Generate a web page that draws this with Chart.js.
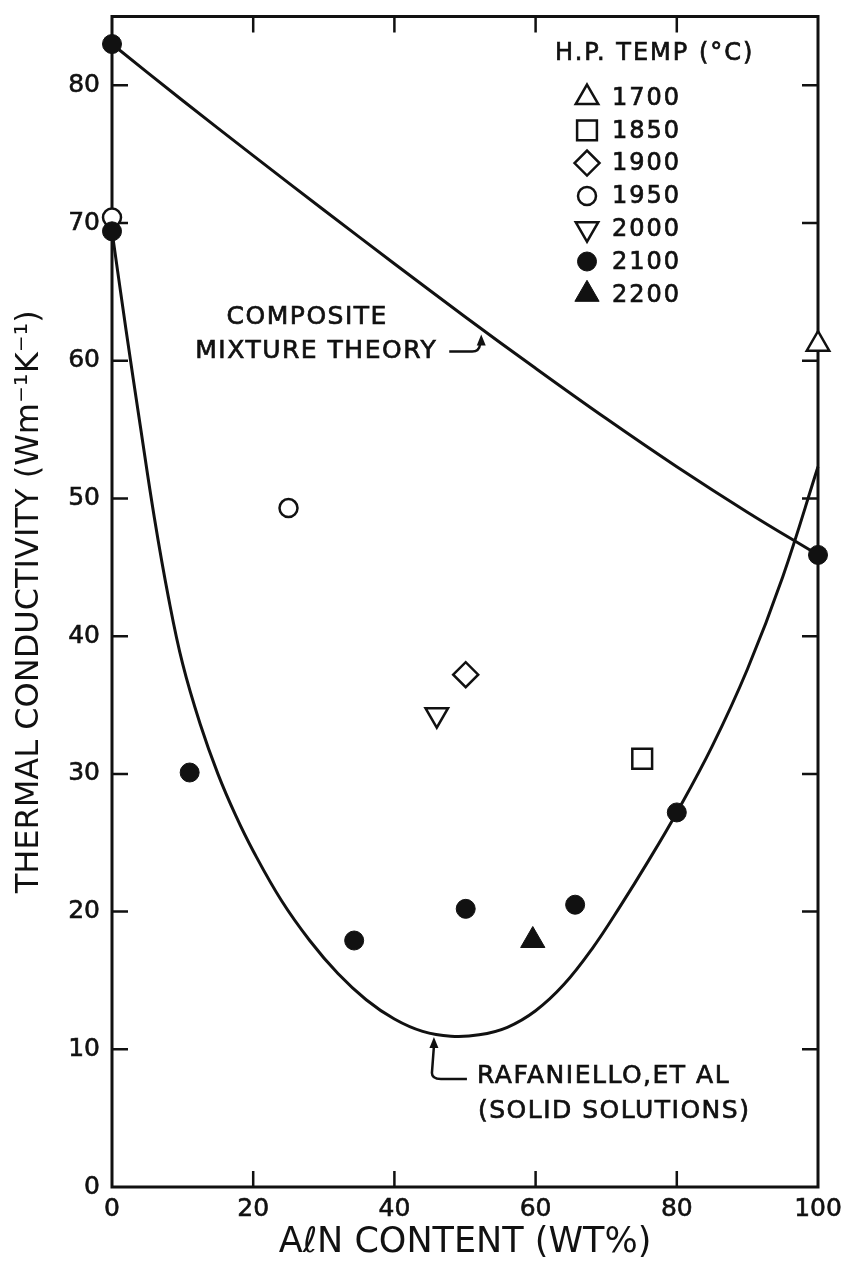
<!DOCTYPE html>
<html lang="en">
<head>
<meta charset="UTF-8">
<title>Thermal conductivity vs AlN content</title>
<script src="https://cdn.jsdelivr.net/npm/chart.js@4.4.7/dist/chart.umd.min.js"></script>
<style>
*{margin:0;padding:0}
body{background:#fff;width:846px;height:1275px;overflow:hidden}
</style>
</head>
<body>
<canvas id="chart" width="846" height="1275"></canvas>
<script>
// hot-pressing temperatures (°C), one marker style each
const tempLabels = ['1700', '1850', '1900', '1950', '2000', '2100', '2200'];

// measured points: AlN content (wt%) and conductivity (W/m·K)
const aln1700 = [100];
const k1700 = [61.2];
const aln1850 = [75.1];
const k1850 = [31.1];
const aln1900 = [50.1];
const k1900 = [37.2];
const aln1950 = [0, 25];
const k1950 = [70.4, 49.3];
const aln2000 = [46];
const k2000 = [34.3];
const aln2100 = [0, 0, 11, 34.3, 50.1, 65.6, 80, 100];
const k2100 = [83, 69.4, 30.1, 17.9, 20.2, 20.5, 27.2, 45.9];
const aln2200 = [59.6];
const k2200 = [17.9];

// composite mixture theory curve
const mixtureX = [0, 10, 20, 30, 40, 50, 60, 70, 80, 90, 100];
const mixtureY = [83, 78.9, 74.9, 70.95, 67.05, 63.2, 59.45, 55.8, 52.3, 49.0, 45.9];

// Rafaniello et al. solid solution curve
const solidX = [0, 2, 4, 6, 8, 10, 12.5, 15, 17.5, 20, 24, 28, 32, 36, 40, 44, 48, 52, 56, 60, 64, 68, 72, 76, 80, 85, 90, 95, 100];
const solidY = [69.4, 62.2, 55.3, 48.6, 42.8, 38.0, 33.6, 30.0, 27.0, 24.4, 20.8, 17.9, 15.5, 13.6, 12.2, 11.3, 10.95, 11.05, 11.6, 12.8, 14.7, 17.3, 20.4, 23.7, 27.2, 32.0, 37.6, 44.3, 52.3];

const xTicks = [0, 20, 40, 60, 80, 100];
const yTicks = [0, 10, 20, 30, 40, 50, 60, 70, 80];

const ink = '#111';
const FONT = "'DejaVu Sans', sans-serif";
const pairs = (xs, ys) => xs.map((x, i) => ({ x, y: ys[i] }));

function marker(label, xs, ys, style, filled, radius, rotation) {
  return {
    type: 'scatter',
    label,
    data: pairs(xs, ys),
    pointStyle: style,
    pointRadius: radius,
    pointHoverRadius: radius,
    pointRotation: rotation || 0,
    pointBorderWidth: filled ? 1 : 2.5,
    backgroundColor: filled ? ink : '#fff',
    borderColor: ink,
    clip: false,
  };
}

function curve(label, xs, ys) {
  return {
    type: 'line',
    label,
    data: pairs(xs, ys),
    borderColor: ink,
    borderWidth: 3,
    pointRadius: 0,
    tension: 0.4,
    fill: false,
    clip: false,
  };
}

const datasets = [
  marker(tempLabels[5], aln2100, k2100, 'circle', true, 9.5),
  marker(tempLabels[0], aln1700, k1700, 'triangle', false, 13),
  marker(tempLabels[1], aln1850, k1850, 'rect', false, 14),
  marker(tempLabels[2], aln1900, k1900, 'rectRot', false, 12.5),
  marker(tempLabels[3], aln1950, k1950, 'circle', false, 9),
  marker(tempLabels[4], aln2000, k2000, 'triangle', false, 13, 180),
  marker(tempLabels[6], aln2200, k2200, 'triangle', true, 14),
  curve('mixture', mixtureX, mixtureY),
  curve('solid', solidX, solidY),
];

// box round the plot with short inward ticks on all four sides
const frame = {
  id: 'frame',
  beforeDatasetsDraw(chart) {
    const { ctx, chartArea: a, scales: { x, y } } = chart;
    ctx.save();
    ctx.strokeStyle = ink;
    ctx.lineWidth = 3;
    ctx.strokeRect(a.left, a.top, a.right - a.left, a.bottom - a.top);
    ctx.lineWidth = 2.5;
    ctx.beginPath();
    xTicks.slice(1, -1).forEach(v => {
      const px = x.getPixelForValue(v);
      ctx.moveTo(px, a.bottom); ctx.lineTo(px, a.bottom - 16);
      ctx.moveTo(px, a.top); ctx.lineTo(px, a.top + 16);
    });
    yTicks.slice(1).forEach(v => {
      const py = y.getPixelForValue(v);
      ctx.moveTo(a.left, py); ctx.lineTo(a.left + 16, py);
      ctx.moveTo(a.right, py); ctx.lineTo(a.right - 16, py);
    });
    ctx.stroke();
    ctx.restore();
  }
};

function drawMarker(ctx, ds, cx, cy) {
  ctx.fillStyle = ds.backgroundColor;
  ctx.strokeStyle = ds.borderColor;
  ctx.lineWidth = ds.pointBorderWidth;
  Chart.helpers.drawPoint(ctx, {
    pointStyle: ds.pointStyle,
    radius: ds.pointRadius,
    rotation: ds.pointRotation,
    borderWidth: ds.pointBorderWidth,
  }, cx, cy);
}

// filled text with a hairline outline so it reads a little heavier
function inkText(ctx, str, x, y) {
  ctx.fillText(str, x, y);
  ctx.strokeText(str, x, y);
}

// temperature key in the upper right corner
const tempKey = {
  id: 'tempKey',
  afterDatasetsDraw(chart) {
    const { ctx, chartArea: a } = chart;
    const left = a.right - 263;
    ctx.save();
    ctx.font = `24px ${FONT}`;
    ctx.letterSpacing = '2px';
    ctx.textBaseline = 'middle';
    ctx.textAlign = 'left';
    ctx.fillStyle = ink;
    ctx.strokeStyle = ink;
    ctx.lineWidth = 0.7;
    inkText(ctx, 'H.P. TEMP (°C)', left, a.top + 37);
    tempLabels.forEach((t, i) => {
      const ds = chart.data.datasets.find(d => d.label === t);
      const cy = a.top + 81 + i * 32.8;
      ctx.save();
      drawMarker(ctx, ds, left + 32, cy);
      ctx.restore();
      inkText(ctx, t, left + 57, cy + 1);
    });
    ctx.restore();
  }
};

// labelled arrows pointing at the two curves
const curveNotes = {
  id: 'curveNotes',
  afterDatasetsDraw(chart) {
    const { ctx, scales: { x, y } } = chart;
    ctx.save();
    ctx.strokeStyle = ink;
    ctx.fillStyle = ink;
    ctx.font = `25px ${FONT}`;
    ctx.letterSpacing = '1.5px';
    ctx.textBaseline = 'middle';

    const head = (px, py) => {
      ctx.beginPath();
      ctx.moveTo(px, py);
      ctx.lineTo(px - 4.5, py + 11);
      ctx.lineTo(px + 4.5, py + 11);
      ctx.closePath();
      ctx.fill();
    };
    const label = (str, tx, ty) => {
      ctx.lineWidth = 0.7;
      inkText(ctx, str, tx, ty);
      ctx.lineWidth = 2.5;
    };

    // composite mixture theory
    let px = x.getPixelForValue(52.3), py = y.getPixelForValue(61.9);
    ctx.lineWidth = 2.5;
    head(px, py);
    ctx.beginPath();
    ctx.moveTo(px - 1, py + 9);
    ctx.quadraticCurveTo(px - 2, py + 17, px - 9, py + 17);
    ctx.lineTo(px - 32, py + 17);
    ctx.stroke();
    ctx.textAlign = 'center';
    label('COMPOSITE', px - 174, py - 17);
    label('MIXTURE THEORY', px - 165, py + 17);

    // Rafaniello et al.
    px = x.getPixelForValue(45.6); py = y.getPixelForValue(10.9);
    head(px, py);
    ctx.beginPath();
    ctx.moveTo(px, py + 9);
    ctx.lineTo(px - 2, py + 36);
    ctx.quadraticCurveTo(px - 2, py + 42, px + 7, py + 42);
    ctx.lineTo(px + 33, py + 42);
    ctx.stroke();
    ctx.textAlign = 'left';
    label('RAFANIELLO,ET AL', px + 43, py + 40);
    label('(SOLID SOLUTIONS)', px + 44, py + 75);
    ctx.restore();
  }
};

new Chart(document.getElementById('chart'), {
  data: { datasets },
  options: {
    responsive: false,
    animation: false,
    events: [],
    layout: { padding: { left: 0, right: 28, top: 12, bottom: 0 } },
    plugins: { legend: { display: false }, tooltip: { enabled: false } },
    scales: {
      x: {
        type: 'linear',
        min: 0,
        max: 100,
        afterFit: s => { s.height = 88; s.paddingLeft = 0; s.paddingRight = 0; },
        afterBuildTicks: s => { s.ticks = xTicks.map(v => ({ value: v })); },
        grid: { display: false, drawTicks: false },
        border: { display: false },
        ticks: { color: ink, padding: 7, maxRotation: 0, textStrokeColor: ink, textStrokeWidth: 0.6, font: { family: FONT, size: 25 } },
        title: {
          display: true,
          text: 'AℓN CONTENT (WT%)',
          color: ink,
          padding: { top: 0, bottom: 11 },
          font: { family: FONT, size: 35 },
        },
      },
      y: {
        type: 'linear',
        min: 0,
        max: 85,
        afterFit: s => { s.width = 112; s.paddingTop = 0; s.paddingBottom = 0; },
        afterBuildTicks: s => { s.ticks = yTicks.map(v => ({ value: v })); },
        grid: { display: false, drawTicks: false },
        border: { display: false },
        ticks: { color: ink, padding: 12, textStrokeColor: ink, textStrokeWidth: 0.6, font: { family: FONT, size: 25 } },
        title: {
          display: true,
          text: 'THERMAL CONDUCTIVITY (Wm⁻¹K⁻¹)',
          color: ink,
          padding: { top: 10, bottom: 0 },
          font: { family: FONT, size: 32 },
        },
      },
    },
  },
  plugins: [frame, tempKey, curveNotes],
});
</script>
</body>
</html>
